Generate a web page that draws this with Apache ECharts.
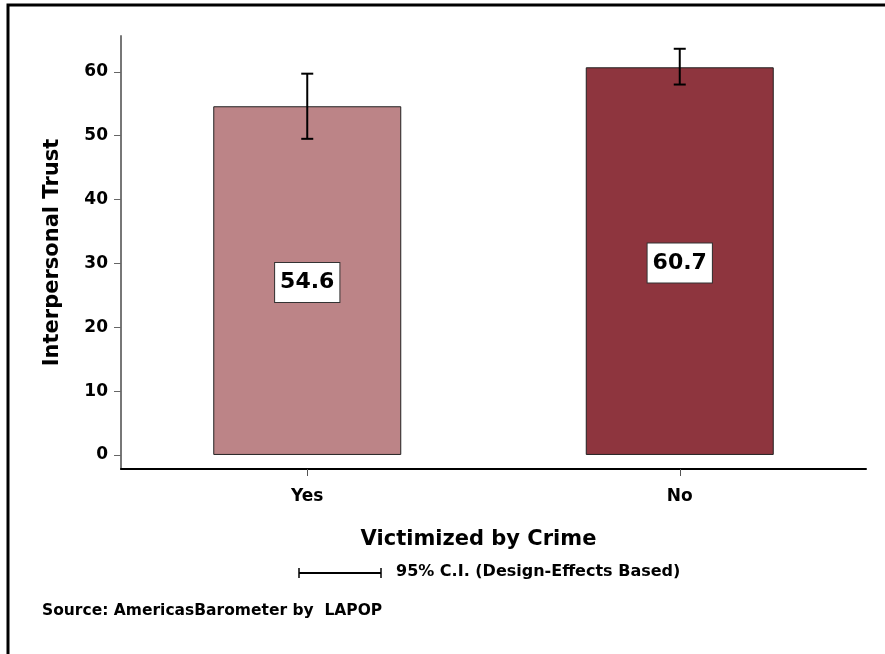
<!DOCTYPE html>
<html>
<head>
<meta charset="utf-8">
<script src="https://cdn.jsdelivr.net/npm/echarts@6/dist/echarts.min.js"></script>
<style>
  html, body { margin: 0; padding: 0; background: #fff; }
  #chart { width: 885px; height: 654px; }
</style>
</head>
<body>
<div id="chart"></div>
<script>
const categories = ['Yes', 'No'];
const means = [54.6, 60.7];
const ciLow = [49.5, 58.0];
const ciHigh = [59.7, 63.6];
const barColors = ['#BC8487', '#8E353E'];
const yTicks = [0, 10, 20, 30, 40, 50, 60];

const font = '"DejaVu Sans", Verdana, sans-serif';

const chart = echarts.init(document.getElementById('chart'));

const option = {
  backgroundColor: '#fff',
  animation: false,
  grid: { left: 121, right: 19, top: 36, bottom: 185 },
  xAxis: {
    type: 'category',
    data: categories,
    name: 'Victimized by Crime',
    nameLocation: 'middle',
    nameGap: 60,
    nameTextStyle: { fontFamily: font, fontWeight: 'bold', fontSize: 21, color: '#000', padding: [0, 30, 0, 0] },
    axisLine: { onZero: false, lineStyle: { color: '#000', width: 2 } },
    axisTick: { show: true, alignWithLabel: true, length: 7, lineStyle: { color: '#555', width: 1 } },
    axisLabel: { fontFamily: font, fontWeight: 'bold', fontSize: 17, color: '#000', margin: 19 }
  },
  yAxis: {
    type: 'value',
    min: -2.2,
    max: 65.6,
    name: 'Interpersonal Trust',
    nameLocation: 'middle',
    nameGap: 58,
    nameTextStyle: { fontFamily: font, fontWeight: 'bold', fontSize: 21, color: '#000' },
    splitLine: { show: false },
    axisLine: { show: true, lineStyle: { color: '#777', width: 2 } },
    axisTick: { show: true, length: 7, customValues: yTicks, lineStyle: { color: '#666' } },
    axisLabel: { fontFamily: font, fontWeight: 'bold', fontSize: 17, color: '#000', margin: 13, customValues: yTicks }
  },
  series: [
    {
      type: 'bar',
      barWidth: 188,
      data: means.map((v, i) => ({
        value: v,
        itemStyle: { color: barColors[i], borderColor: '#222', borderWidth: 1 }
      })),
      label: {
        show: true,
        position: 'inside',
        offset: [0, 2],
        fontFamily: font,
        fontWeight: 'bold',
        fontSize: 22,
        color: '#000',
        backgroundColor: '#fff',
        borderColor: '#333',
        borderWidth: 1,
        padding: [9, 5, 8, 5]
      }
    },
    {
      type: 'custom',
      z: 10,
      data: categories.map((c, i) => [i, ciLow[i], ciHigh[i]]),
      renderItem: function (params, api) {
        const lo = api.coord([api.value(0), api.value(1)]);
        const hi = api.coord([api.value(0), api.value(2)]);
        const cap = 6;
        const style = { stroke: '#000', lineWidth: 2 };
        return {
          type: 'group',
          children: [
            { type: 'line', shape: { x1: lo[0], y1: lo[1], x2: hi[0], y2: hi[1] }, style: style },
            { type: 'line', shape: { x1: lo[0] - cap, y1: lo[1], x2: lo[0] + cap, y2: lo[1] }, style: style },
            { type: 'line', shape: { x1: hi[0] - cap, y1: hi[1], x2: hi[0] + cap, y2: hi[1] }, style: style }
          ]
        };
      }
    }
  ],
  graphic: [
    {
      type: 'rect',
      shape: { x: 8, y: 5, width: 950, height: 750 },
      style: { fill: 'none', stroke: '#000', lineWidth: 3 },
      silent: true
    },
    {
      type: 'group',
      children: [
        { type: 'line', shape: { x1: 299, y1: 573, x2: 381, y2: 573 }, style: { stroke: '#000', lineWidth: 2 } },
        { type: 'line', shape: { x1: 299, y1: 568, x2: 299, y2: 578 }, style: { stroke: '#000', lineWidth: 1.5 } },
        { type: 'line', shape: { x1: 381, y1: 568, x2: 381, y2: 578 }, style: { stroke: '#000', lineWidth: 1.5 } }
      ]
    },
    {
      type: 'text',
      left: 396,
      top: 564,
      style: { text: '95% C.I. (Design-Effects Based)', fontFamily: font, fontWeight: 'bold', fontSize: 16, fill: '#000' }
    },
    {
      type: 'text',
      left: 42,
      top: 603,
      style: { text: 'Source: AmericasBarometer by  LAPOP', fontFamily: font, fontWeight: 'bold', fontSize: 15.5, fill: '#000' }
    }
  ]
};

chart.setOption(option);
</script>
</body>
</html>
